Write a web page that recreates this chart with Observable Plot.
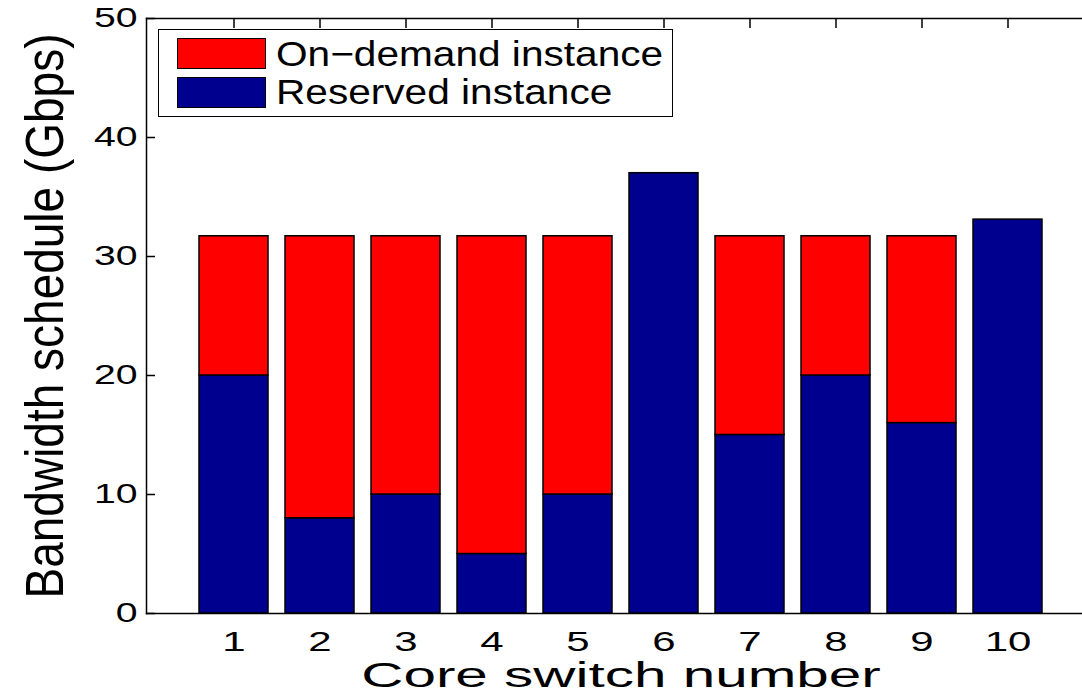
<!DOCTYPE html>
<html>
<head>
<meta charset="utf-8">
<script src="https://cdn.jsdelivr.net/npm/d3@7"></script>
<script src="https://cdn.jsdelivr.net/npm/@observablehq/plot@0.6"></script>
<style>
  html, body { margin: 0; padding: 0; background: #fff; overflow: hidden; }
  #wrap { position: relative; width: 1082px; height: 700px; overflow: hidden; font-family: "Liberation Sans", Arial, sans-serif; }
  #wrap svg { max-width: none !important; }
  #legend { position: absolute; left: 158px; top: 29px; width: 515px; height: 88px; box-sizing: border-box;
            border: 1.5px solid #000; background: #fff; }
  .sw { position: absolute; left: 18px; width: 89px; height: 31px; box-sizing: border-box; border: 1.5px solid #000; }
  .lt { position: absolute; left: 117px; font-size: 35px; line-height: 35px; color: #000; white-space: nowrap;
        transform: scaleX(1.16); transform-origin: 0 50%; }
  #edge { position: absolute; left: 1074px; top: 20px; width: 10px; height: 590px; background: #fff; }
</style>
</head>
<body>
<div id="wrap"></div>
<script>
// ---- data ----
const switches = [1, 2, 3, 4, 5, 6, 7, 8, 9, 10];
const reserved = [20, 8, 10, 5, 10, 37, 15, 20, 16, 33.1];
const onDemand = [11.7, 23.7, 21.7, 26.7, 21.7, 0, 16.7, 11.7, 15.7, 0];
const seriesNames = ["On\u2212demand instance", "Reserved instance"];
const seriesColors = ["#ff0000", "#00008f"];
const yTicks = [0, 10, 20, 30, 40, 50];
const xLabel = "Core switch number";
const yLabel = "Bandwidth schedule (Gbps)";

// ---- table for Plot (reserved stacked first, on-demand on top) ----
const rows = [];
switches.forEach((s, i) => rows.push({sw: s, series: seriesNames[1], value: reserved[i]}));
switches.forEach((s, i) => { if (onDemand[i] > 0) rows.push({sw: s, series: seriesNames[0], value: onDemand[i]}); });

// The axes box continues past the right edge of the 1082px picture (as in the reference),
// so the SVG is a little wider and the container clips it.
const chart = Plot.plot({
  width: 1095,
  height: 700,
  marginLeft: 146,
  marginRight: 0,
  marginTop: 18,
  marginBottom: 87,
  style: {fontFamily: "'Liberation Sans', Arial, sans-serif", background: "#fff", color: "#000", maxWidth: "none"},
  x: {type: "band", domain: switches, paddingInner: 0.2, paddingOuter: 0.6},
  y: {domain: [0, 50]},
  color: {domain: seriesNames, range: seriesColors},
  marks: [
    Plot.barY(rows, {x: "sw", y: "value", fill: "series", stroke: "#000", strokeWidth: 1.5}),
    Plot.frame({anchor: "left", stroke: "#000", strokeWidth: 1.5}),
    Plot.frame({anchor: "top", stroke: "#000", strokeWidth: 1.5}),
    Plot.frame({anchor: "bottom", stroke: "#000", strokeWidth: 1.5}),
    Plot.axisY({ticks: yTicks, tickSize: 0, tickPadding: 9, label: yLabel, labelArrow: "none", labelAnchor: "center", labelOffset: 121}),
    Plot.axisY({ticks: yTicks, tickSize: -9, tickFormat: () => "", label: null, strokeWidth: 1.5}),
    Plot.axisX({anchor: "bottom", tickSize: 0, tickPadding: 18, label: xLabel, labelArrow: "none", labelAnchor: "center", labelOffset: 73}),
    Plot.axisX({anchor: "top", tickSize: -9, tickFormat: () => "", label: null, strokeWidth: 1.5})
  ]
});

document.getElementById("wrap").appendChild(chart);

// ---- text styling: sizes and horizontal stretch like the reference ----
function styleText(sel, size, sx, sy) {
  chart.querySelectorAll(sel).forEach(t => {
    t.style.fontSize = size + "px";
    t.setAttribute("fill", "#000");
    let tr = t.getAttribute("transform") || "";
    const xa = t.getAttribute("x");
    if (xa !== null && !isNaN(+xa)) { tr += ` translate(${+xa},0)`; t.removeAttribute("x"); }
    t.setAttribute("transform", tr + ` scale(${sx},${sy})`);
  });
}
styleText('g[aria-label="y-axis tick label"] text', 28, 1.4, 1);
styleText('g[aria-label="x-axis tick label"] text', 28, 1.5, 1);
styleText('g[aria-label="x-axis label"] text', 35, 1.67, 1);
styleText('g[aria-label="y-axis label"] text', 46, 1, 1.15);

// ---- legend (inside the axes, as in the reference) ----
const color = chart.scale("color");
const legend = document.createElement("div");
legend.id = "legend";
const tops = [{sw: 8, txt: 6}, {sw: 46.5, txt: 44}];
color.domain.forEach((name, i) => {
  const sw = document.createElement("div");
  sw.className = "sw";
  sw.style.top = tops[i].sw + "px";
  sw.style.background = color.range[i];
  legend.appendChild(sw);
  const lt = document.createElement("div");
  lt.className = "lt";
  lt.style.top = tops[i].txt + "px";
  lt.textContent = name;
  legend.appendChild(lt);
});
document.getElementById("wrap").appendChild(legend);

// keep the clipped right side of the axes box open, as in the reference picture
const edge = document.createElement("div");
edge.id = "edge";
document.getElementById("wrap").appendChild(edge);
</script>
</body>
</html>
